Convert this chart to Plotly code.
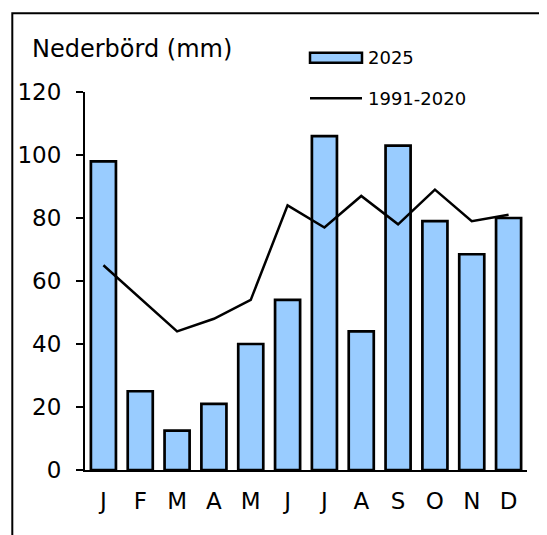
import plotly.graph_objects as go

months = ["J", "F", "M", "A", "M", "J", "J", "A", "S", "O", "N", "D"]
precip_2025 = [98, 25, 12.5, 21, 40, 54, 106, 44, 103, 79, 68.5, 80]
normal_1991_2020 = [65, 54.5, 44, 48, 54, 84, 77, 87, 78, 89, 79, 81]
y_ticks = [0, 20, 40, 60, 80, 100, 120]

# page has an 8px body margin; layout targets are given in page pixels
OFF = 8
W, H = 547, 535
L = 85 - OFF
T = 92 - OFF
R = W - (527 - OFF)
B = H - (470 - OFF)
PW, PH = W - L - R, H - T - B

def px(x):
    return (x - OFF - L) / PW

def py(y):
    return (H - B - (y - OFF)) / PH

xs = list(range(len(months)))
FONT = "DejaVu Sans"

fig = go.Figure()
fig.add_trace(go.Bar(
    x=xs, y=precip_2025, name="2025",
    marker=dict(color="#99CCFF", line=dict(color="black", width=2.7)),
    showlegend=False,
))
fig.add_trace(go.Scatter(
    x=xs, y=normal_1991_2020, name="1991-2020", mode="lines",
    line=dict(color="black", width=2.5), showlegend=False,
))

fig.update_layout(
    width=W, height=H,
    margin=dict(l=L, r=R, t=T, b=B, autoexpand=False),
    paper_bgcolor="white", plot_bgcolor="white",
    bargap=0.32,
    font=dict(family=FONT, color="black"),
    xaxis=dict(
        range=[-0.5, len(months) - 0.5],
        tickmode="array", tickvals=xs, ticktext=months,
        ticks="", showline=True, linecolor="black", linewidth=2,
        showgrid=False, zeroline=False,
        tickfont=dict(family=FONT, size=23, color="black"),
        ticklabelstandoff=9,
    ),
    yaxis=dict(
        range=[0, 120], tickmode="array", tickvals=y_ticks,
        ticks="outside", ticklen=7, tickwidth=2, tickcolor="black",
        showline=True, linecolor="black", linewidth=2,
        showgrid=False, zeroline=False,
        tickfont=dict(family=FONT, size=23, color="black"),
        ticklabelstandoff=10,
    ),
    shapes=[
        # outer frame
        dict(type="rect", xref="paper", yref="paper",
             x0=px(12.3), x1=px(620), y0=py(620), y1=py(13.3),
             line=dict(color="black", width=2), fillcolor="rgba(0,0,0,0)", layer="below"),
        # legend symbols
        dict(type="rect", xref="paper", yref="paper",
             x0=px(310), x1=px(362), y0=py(62.7), y1=py(52.7),
             line=dict(color="black", width=2.5), fillcolor="#99CCFF"),
        dict(type="line", xref="paper", yref="paper",
             x0=px(310), x1=px(362), y0=py(98.3), y1=py(98.3),
             line=dict(color="black", width=2.5)),
    ],
    annotations=[
        dict(text="Nederbörd (mm)", xref="paper", yref="paper",
             x=px(30), y=py(49), xanchor="left", yanchor="middle",
             showarrow=False, font=dict(family=FONT, size=24, color="black")),
        dict(text="2025", xref="paper", yref="paper",
             x=px(366), y=py(57.5), xanchor="left", yanchor="middle",
             showarrow=False, font=dict(family=FONT, size=18, color="black")),
        dict(text="1991-2020", xref="paper", yref="paper",
             x=px(366), y=py(98.3), xanchor="left", yanchor="middle",
             showarrow=False, font=dict(family=FONT, size=18, color="black")),
    ],
)

fig.write_html("out.html")
